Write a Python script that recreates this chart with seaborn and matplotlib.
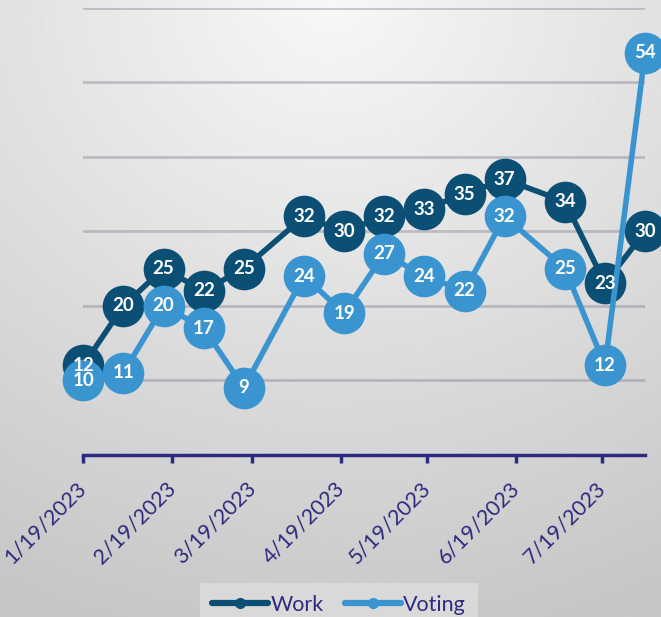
import numpy as np
import pandas as pd
import matplotlib
matplotlib.use("Agg")
import matplotlib.pyplot as plt
import matplotlib.dates as mdates
import seaborn as sns

# data
dates = ["2023-01-19", "2023-02-02", "2023-02-16", "2023-03-02", "2023-03-16",
         "2023-04-06", "2023-04-20", "2023-05-04", "2023-05-18", "2023-06-01",
         "2023-06-15", "2023-07-06", "2023-07-20", "2023-08-03"]
work = [12, 20, 25, 22, 25, 32, 30, 32, 33, 35, 37, 34, 23, 30]
voting = [10, 11, 20, 17, 9, 24, 19, 27, 24, 22, 32, 25, 12, 54]
tick_dates = ["2023-01-19", "2023-02-19", "2023-03-19", "2023-04-19",
              "2023-05-19", "2023-06-19", "2023-07-19"]

df = pd.DataFrame({"date": pd.to_datetime(dates), "Work": work, "Voting": voting})
long = df.melt(id_vars="date", var_name="series", value_name="value")

sns.set_theme(style="white")
plt.rcParams["font.family"] = ["Lato", "DejaVu Sans"]

colors = {"Work": "#0b4f74", "Voting": "#3a94d0"}
axis_col = "#2e2a80"

fig = plt.figure(figsize=(6.61, 6.17), dpi=100)

# radial grey gradient background
bg = fig.add_axes([0, 0, 1, 1], zorder=-10)
yy, xx = np.mgrid[0:1:300j, 0:1:300j]
r = np.sqrt(((xx - 0.5) * 1.0) ** 2 + (yy * 1.05) ** 2)
shade = 0.97 - 0.19 * np.clip(r / 1.1, 0, 1)
bg.imshow(shade, cmap="gray", vmin=0, vmax=1, extent=[0, 1, 0, 1],
          aspect="auto", origin="upper")
bg.axis("off")

ax = fig.add_axes([0.126, 0.263, 0.85, 0.724])
ax.patch.set_alpha(0)

sns.lineplot(data=long, x="date", y="value", hue="series", palette=colors,
             marker="o", markersize=30, linewidth=4, markeredgewidth=0,
             ax=ax, legend=False, zorder=3)
for ln in ax.lines:
    ln.set_clip_on(False)

for name in ["Work", "Voting"]:
    for d, v in zip(df["date"], df[name]):
        ax.text(d, v, str(v), color="white", fontsize=13.5, fontweight="bold",
                ha="center", va="center", zorder=10)

ax.set_xlim(pd.Timestamp("2023-01-19"), pd.Timestamp("2023-08-03"))
ax.set_ylim(0, 60)
ax.set_yticks([10, 20, 30, 40, 50, 60])
ax.yaxis.grid(True, color="#7f7c90", alpha=0.4, linewidth=2)
ax.set_axisbelow(True)
ax.tick_params(axis="y", left=False, labelleft=False)

ax.set_xticks(pd.to_datetime(tick_dates))
ax.xaxis.set_major_formatter(mdates.DateFormatter("%-m/%d/%Y"))
ax.tick_params(axis="x", direction="out", length=6, width=2.5, color=axis_col,
               labelcolor=axis_col, labelsize=15.5, pad=16, bottom=True)
for lab in ax.get_xticklabels():
    lab.set_rotation(45)
    lab.set_ha("right")
    lab.set_va("center")
    lab.set_rotation_mode("anchor")

for s in ["top", "right", "left"]:
    ax.spines[s].set_visible(False)
ax.spines["bottom"].set_color(axis_col)
ax.spines["bottom"].set_linewidth(2.5)
ax.set_xlabel("")
ax.set_ylabel("")

handles = [plt.Line2D([], [], color=colors[n], marker="o", markersize=7,
                      linewidth=4.5, label=n) for n in ["Work", "Voting"]]
leg = fig.legend(handles=handles, loc="center", bbox_to_anchor=(0.513, 0.02),
                 ncol=2, frameon=True, fancybox=False, fontsize=15.5,
                 handlelength=2.6, columnspacing=1.0, handletextpad=0.1,
                 borderpad=0.55)
leg.get_frame().set_facecolor("#d9d9d9")
leg.get_frame().set_edgecolor("none")
leg.get_frame().set_alpha(1)
for t in leg.get_texts():
    t.set_color(axis_col)

fig.savefig("out.png", dpi=100)
